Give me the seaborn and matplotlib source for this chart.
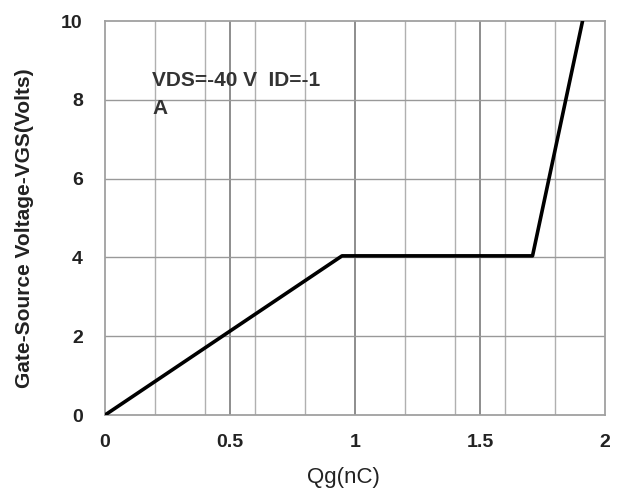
import matplotlib
matplotlib.use("Agg")
import matplotlib.pyplot as plt
import seaborn as sns
import pandas as pd

# Data
qg_nc = [0.0, 0.948, 1.71, 1.91]
vgs_v = [0.0, 4.04, 4.04, 10.0]
x_ticks = [0, 0.5, 1, 1.5, 2]
x_tick_labels = ["0", "0.5", "1", "1.5", "2"]
y_ticks = [0, 2, 4, 6, 8, 10]
x_minor_grid = [0.2, 0.4, 0.6, 0.8, 1.2, 1.4, 1.6, 1.8]
x_major_grid = [0.5, 1.0, 1.5]
y_grid = [2, 4, 6, 8]
annotation = "VDS=-40 V  ID=-1\nA"

df = pd.DataFrame({"Qg": qg_nc, "VGS": vgs_v})

sns.set_style("white")
plt.rcParams['font.family'] = ['Liberation Sans', 'DejaVu Sans']

fig = plt.figure(figsize=(6.24, 4.9), dpi=100)
ax = fig.add_axes([0.1683, 0.153, 0.8013, 0.804])

# grid
for xv in x_minor_grid:
    ax.axvline(xv, color="#b0b0b0", lw=1.0, zorder=1)
for xv in x_major_grid:
    ax.axvline(xv, color="#7a7a7a", lw=1.2, zorder=1)
for yv in y_grid:
    ax.axhline(yv, color="#999999", lw=1.0, zorder=1)

sns.lineplot(data=df, x="Qg", y="VGS", ax=ax, color="black", lw=2.6, zorder=3)

ax.set_xlim(0, 2)
ax.set_ylim(0, 10)
ax.set_xticks(x_ticks)
ax.set_xticklabels(x_tick_labels)
ax.set_yticks(y_ticks)
ax.tick_params(axis="both", length=0, labelsize=14)
ax.tick_params(axis="x", pad=14)
ax.tick_params(axis="y", pad=16)
for lab in ax.get_xticklabels() + ax.get_yticklabels():
    lab.set_fontweight("bold")
    lab.set_color("#222222")

for s in ax.spines.values():
    s.set_color("#a0a0a0")
    s.set_linewidth(1.3)

ax.set_xlabel("Qg(nC)", fontsize=16, color="#222222")
ax.xaxis.set_label_coords(0.477, -0.132)
ax.set_ylabel("Gate-Source Voltage-VGS(Volts)", fontsize=15, fontweight="bold",
              color="#222222")
ax.yaxis.set_label_coords(-0.142, 0.475)

ax.text(0.188, 8.74, annotation, fontsize=15, fontweight="bold", color="#333333",
        va="top", ha="left", linespacing=1.65, zorder=4)

fig.savefig("out.png", dpi=100)
